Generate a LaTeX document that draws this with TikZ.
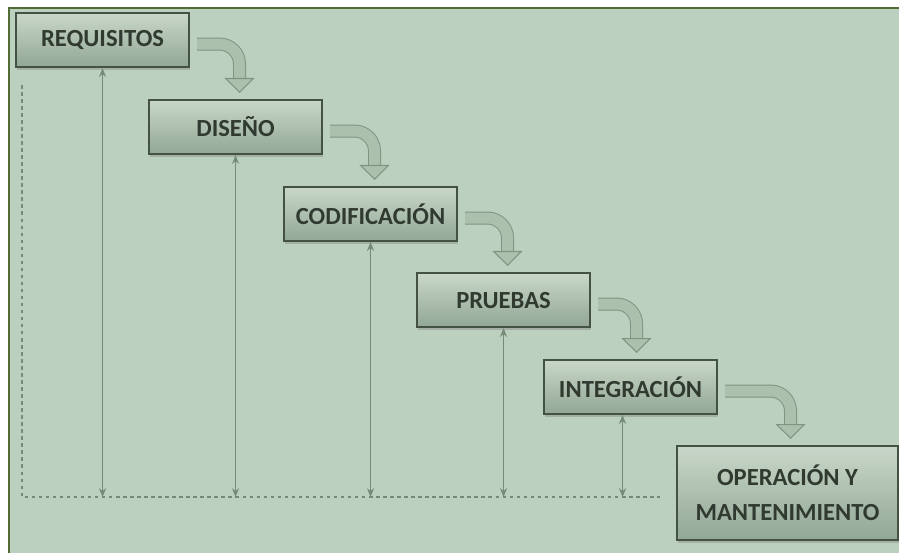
\documentclass[tikz,border=0pt]{standalone}
\usepackage{fontspec}
\setmainfont{Carlito}
\usepackage{tikz}
\usetikzlibrary{positioning, arrows.meta, shadows, calc}
\definecolor{bg}{RGB}{188,208,192}
\definecolor{frame}{RGB}{85,107,53}
\definecolor{boxtop}{RGB}{200,215,201}
\definecolor{boxbot}{RGB}{146,167,149}
\definecolor{boxline}{RGB}{68,82,68}
\definecolor{txt}{RGB}{48,58,48}
\definecolor{arrfill}{RGB}{172,192,174}
\definecolor{arrline}{RGB}{128,148,130}
\definecolor{tline}{RGB}{118,138,120}
\tikzstyle{ph}=[%
      rectangle, draw=boxline, line width=1.2pt, top color=boxtop, bottom color=boxbot,
      drop shadow={shadow xshift=0.5pt, shadow yshift=-1.5pt, opacity=0.4},
      minimum width=3.46cm, minimum height=1.08cm, inner sep=4pt, align=center,
      font=\bfseries\fontsize{14}{20}\selectfont, text=txt, anchor=north west
]
\tikzstyle{fl}=[%
      draw=arrfill, line width=0.22cm, rounded corners=0.4cm,
      -{Triangle[length=0.3cm, width=0.6cm, color=arrline, fill=arrfill, line width=0.6pt]},
      preaction={draw=arrline, line width=0.26cm, -, shorten >=0.28cm}
]
\tikzstyle{tl}=[%
      draw=tline, line width=0.8pt, {Stealth[length=5pt, width=4pt]}-{Stealth[length=5pt, width=4pt]}
]
\tikzstyle{ax}=[%
      draw=tline, line width=0.7pt, dash pattern=on 2pt off 2pt
]
\begin{document}
\begin{tikzpicture}[x=0.02cm, y=-0.02cm]
    \useasboundingbox (0,0) rectangle (899,553);
    \fill[white] (0,0) rectangle (899,553);
    \fill[bg] (9,9) rectangle (899,553);
    \draw[frame, line width=1.6pt] (9,553) -- (9,8) -- (899,8);

    \coordinate (top)  at (22,85);
    \coordinate (base) at (22,497);
    \coordinate (end)  at (660,497);
    \draw[ax] (top) -- (base) -- (end);

    \node[ph] (req) at (15,12)  {REQUISITOS};
    \node[ph] (dis) at (148,99) {DISEÑO};
    \node[ph] (cod) at (283,186) {CODIFICACIÓN};
    \node[ph] (pru) at (416,272) {PRUEBAS};
    \node[ph] (int) at (543,359) {INTEGRACIÓN};
    \node[ph, minimum width=4.42cm, minimum height=1.88cm] (ope) at (676,445) {OPERACIÓN Y\\MANTENIMIENTO};

    \draw[fl] ($(req.east)+(7,4)$) -| ($(dis.north)+(4,-6)$);
    \draw[fl] ($(dis.east)+(7,4)$) -| ($(cod.north)+(4,-6)$);
    \draw[fl] ($(cod.east)+(7,4)$) -| ($(pru.north)+(4,-6)$);
    \draw[fl] ($(pru.east)+(7,4)$) -| ($(int.north)+(6,-6)$);
    \draw[fl] ($(int.east)+(7,4)$) -| ($(ope.north)+(3,-6)$);

    \coordinate (ib) at ($(int.south)+(-8,0)$);
    \draw[tl] (req.south) -- (req.south |- base);
    \draw[tl] (dis.south) -- (dis.south |- base);
    \draw[tl] (cod.south) -- (cod.south |- base);
    \draw[tl] (pru.south) -- (pru.south |- base);
    \draw[tl] (ib) -- (ib |- base);
\end{tikzpicture}
\end{document}
